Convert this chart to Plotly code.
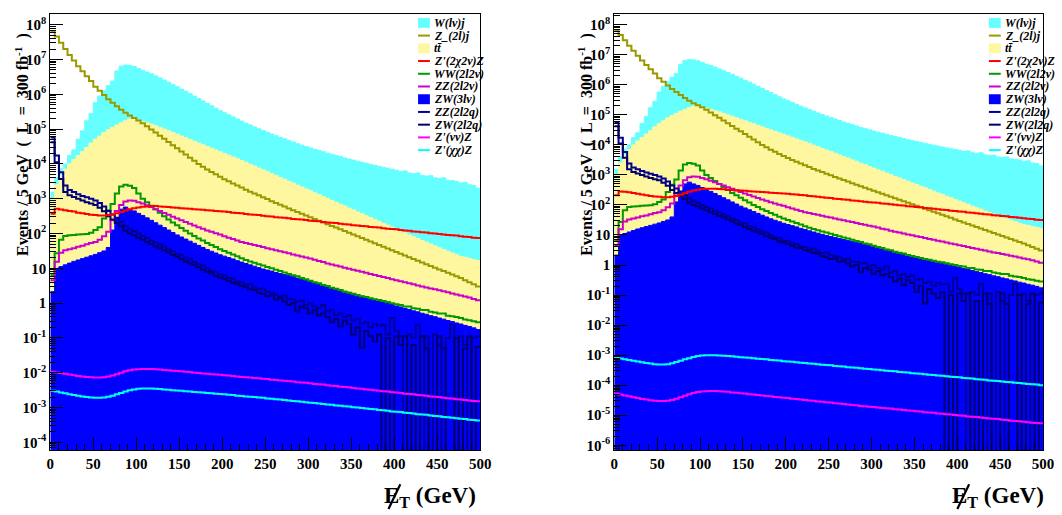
import plotly.graph_objects as go

# ---------------- data (log10 of events per 5 GeV bin, 100 bins 0..500 GeV) ----------------
BIN_EDGES = [5 * i for i in range(101)]

wlnu_j = [3.19, 3.6, 3.86, 4.0, 4.24, 4.4, 4.71, 4.95, 5.24, 5.45,
          5.76, 5.95, 6.1, 6.25, 6.38, 6.67, 6.81, 6.84, 6.83, 6.8,
          6.74, 6.69, 6.64, 6.59, 6.53, 6.47, 6.41, 6.35, 6.28, 6.22,
          6.15, 6.09, 6.02, 5.95, 5.88, 5.81, 5.74, 5.67, 5.6, 5.53,
          5.47, 5.41, 5.35, 5.29, 5.23, 5.17, 5.12, 5.06, 5.01, 4.96,
          4.91, 4.86, 4.81, 4.76, 4.72, 4.67, 4.63, 4.58, 4.54, 4.5,
          4.46, 4.42, 4.39, 4.35, 4.31, 4.28, 4.24, 4.21, 4.17, 4.14,
          4.11, 4.08, 4.05, 4.02, 3.99, 3.96, 3.93, 3.9, 3.87, 3.85,
          3.82, 3.78, 3.8, 3.74, 3.72, 3.74, 3.67, 3.65, 3.66, 3.6,
          3.58, 3.6, 3.53, 3.52, 3.5, 3.45, 3.47, 3.4, 3.38, 3.3]

ttbar = [3.0, 3.4, 3.67, 3.85, 4.0, 4.13, 4.24, 4.36, 4.47, 4.6,
         4.71, 4.8, 4.9, 4.98, 5.05, 5.12, 5.18, 5.24, 5.29, 5.28,
         5.25, 5.22, 5.18, 5.14, 5.1, 5.05, 5.0, 4.95, 4.9, 4.85,
         4.8, 4.75, 4.7, 4.65, 4.6, 4.55, 4.5, 4.45, 4.4, 4.35,
         4.3, 4.25, 4.2, 4.15, 4.1, 4.05, 3.99, 3.94, 3.88, 3.83,
         3.78, 3.72, 3.67, 3.61, 3.56, 3.5, 3.45, 3.39, 3.34, 3.28,
         3.23, 3.17, 3.12, 3.06, 3.01, 2.95, 2.9, 2.84, 2.79, 2.73,
         2.68, 2.62, 2.57, 2.51, 2.46, 2.4, 2.35, 2.29, 2.24, 2.18,
         2.13, 2.07, 2.02, 1.96, 1.91, 1.86, 1.8, 1.75, 1.7, 1.64,
         1.59, 1.54, 1.49, 1.44, 1.39, 1.34, 1.32, 1.28, 1.25, 1.22]

z2l_j = [7.81, 7.66, 7.48, 7.3, 7.13, 6.97, 6.81, 6.66, 6.52, 6.38,
         6.22, 6.1, 5.98, 5.86, 5.76, 5.66, 5.56, 5.47, 5.39, 5.32,
         5.25, 5.17, 5.08, 4.99, 4.9, 4.81, 4.72, 4.63, 4.54, 4.45,
         4.36, 4.27, 4.18, 4.09, 4.0, 3.92, 3.84, 3.77, 3.7, 3.63,
         3.56, 3.5, 3.44, 3.38, 3.32, 3.26, 3.2, 3.15, 3.1, 3.04,
         2.99, 2.93, 2.88, 2.83, 2.78, 2.72, 2.67, 2.62, 2.57, 2.52,
         2.47, 2.42, 2.37, 2.32, 2.27, 2.22, 2.17, 2.12, 2.07, 2.02,
         1.97, 1.92, 1.87, 1.82, 1.77, 1.72, 1.67, 1.62, 1.57, 1.52,
         1.47, 1.42, 1.37, 1.32, 1.27, 1.22, 1.17, 1.12, 1.07, 1.02,
         0.97, 0.92, 0.87, 0.82, 0.77, 0.72, 0.66, 0.6, 0.54, 0.48]

ww_2l2nu = [0.8, 1.43, 1.82, 1.93, 1.95, 1.96, 1.97, 1.98, 1.99, 2.02,
            2.1, 2.18, 2.43, 2.67, 2.85, 3.15, 3.35, 3.4, 3.37, 3.31,
            3.15, 3.0, 2.9, 2.8, 2.7, 2.6, 2.5, 2.4, 2.32, 2.24,
            2.16, 2.08, 2.0, 1.93, 1.86, 1.8, 1.73, 1.67, 1.61, 1.55,
            1.5, 1.45, 1.4, 1.35, 1.29, 1.24, 1.2, 1.16, 1.12, 1.08,
            1.04, 1.0, 0.96, 0.92, 0.88, 0.84, 0.8, 0.77, 0.72, 0.69,
            0.64, 0.6, 0.57, 0.52, 0.49, 0.44, 0.41, 0.38, 0.33, 0.3,
            0.27, 0.23, 0.2, 0.18, 0.14, 0.11, 0.09, 0.06, 0.03, 0.0,
            -0.03, -0.05, -0.1, -0.1, -0.15, -0.16, -0.2, -0.2, -0.25, -0.27,
            -0.3, -0.3, -0.36, -0.38, -0.4, -0.43, -0.47, -0.49, -0.52, -0.55]

zz_2l2nu = [0.66, 1.19, 1.45, 1.52, 1.55, 1.58, 1.62, 1.65, 1.69, 1.73,
            1.76, 1.82, 1.92, 2.05, 2.38, 2.65, 2.82, 2.92, 2.95, 2.94,
            2.9, 2.86, 2.81, 2.76, 2.7, 2.65, 2.59, 2.54, 2.48, 2.43,
            2.38, 2.33, 2.28, 2.23, 2.18, 2.14, 2.09, 2.05, 2.01, 1.97,
            1.92, 1.88, 1.84, 1.8, 1.76, 1.73, 1.7, 1.67, 1.64, 1.61,
            1.58, 1.55, 1.52, 1.49, 1.46, 1.43, 1.4, 1.37, 1.34, 1.31,
            1.28, 1.25, 1.21, 1.18, 1.14, 1.11, 1.08, 1.05, 1.02, 0.99,
            0.96, 0.93, 0.9, 0.87, 0.84, 0.81, 0.78, 0.75, 0.72, 0.69,
            0.66, 0.63, 0.6, 0.57, 0.54, 0.51, 0.48, 0.45, 0.42, 0.4,
            0.37, 0.34, 0.31, 0.28, 0.25, 0.22, 0.19, 0.16, 0.12, 0.08]

zw_3lnu = [0.33, 1.0, 1.05, 1.1, 1.15, 1.2, 1.24, 1.28, 1.32, 1.36,
           1.4, 1.45, 1.5, 1.6, 2.1, 2.45, 2.7, 2.76, 2.7, 2.65,
           2.58, 2.52, 2.45, 2.38, 2.31, 2.24, 2.17, 2.1, 2.03, 1.96,
           1.9, 1.84, 1.78, 1.72, 1.66, 1.6, 1.54, 1.49, 1.44, 1.39,
           1.35, 1.31, 1.27, 1.22, 1.18, 1.14, 1.1, 1.06, 1.02, 0.98,
           0.95, 0.92, 0.88, 0.85, 0.82, 0.79, 0.76, 0.72, 0.69, 0.66,
           0.62, 0.59, 0.55, 0.52, 0.48, 0.45, 0.41, 0.38, 0.34, 0.31,
           0.27, 0.24, 0.2, 0.17, 0.13, 0.1, 0.06, 0.03, -0.01, -0.04,
           -0.08, -0.11, -0.15, -0.18, -0.22, -0.25, -0.29, -0.32, -0.36, -0.39,
           -0.43, -0.46, -0.5, -0.53, -0.57, -0.6, -0.64, -0.67, -0.71, -0.76]

# None = empty bin
zz_2l2q = [4.76, 4.24, 3.76, 3.38, 3.25, 3.19, 3.13, 3.08, 3.04, 3.0,
           2.95, 2.88, 2.78, 2.65, 2.55, 2.45, 2.33, 2.22, 2.14, 2.07,
           2.0, 1.93, 1.87, 1.8, 1.75, 1.69, 1.63, 1.55, 1.5, 1.42,
           1.38, 1.3, 1.26, 1.18, 1.12, 1.08, 1.0, 0.92, 0.9, 0.82,
           0.8, 0.72, 0.7, 0.62, 0.6, 0.52, 0.55, 0.45, 0.4, 0.42,
           0.33, 0.3, 0.25, 0.2, 0.22, 0.12, 0.1, 0.05, 0.08, -0.05,
           0.0, -0.1, -0.15, -0.05, -0.25, -0.2, -0.35, -0.3, -0.4, -0.35,
           -0.5, -0.45, -0.6, -0.55, -0.7, -0.6, -0.65, -0.62, -0.9, -0.43,
           -0.8, -0.95, None, -0.9, -1.0, -0.62, None, -0.95, None, -0.9,
           -1.2, None, -1.0, -0.62, None, -0.95, -1.2, None, -1.0, -0.95]

zw_2l2q = [4.62, 4.05, 3.57, 3.19, 3.1, 3.05, 3.0, 2.95, 2.9, 2.86,
           2.82, 2.74, 2.64, 2.5, 2.4, 2.3, 2.2, 2.08, 2.0, 1.95,
           1.88, 1.82, 1.76, 1.7, 1.63, 1.58, 1.52, 1.46, 1.38, 1.33,
           1.26, 1.2, 1.14, 1.1, 1.03, 0.96, 0.9, 0.86, 0.78, 0.74,
           0.7, 0.64, 0.58, 0.56, 0.5, 0.46, 0.4, 0.38, 0.3, 0.26,
           0.2, 0.22, 0.1, 0.15, 0.05, -0.05, 0.0, -0.24, -0.1, -0.15,
           -0.3, -0.2, -0.35, -0.3, -0.4, -0.55, -0.45, -0.67, -0.5, -0.6,
           -0.9, -0.7, -1.28, -0.8, -0.95, -1.1, -0.9, None, -1.0, None,
           -0.95, -1.2, -0.95, None, -1.2, None, -0.95, -1.3, None, None,
           -0.95, -1.3, None, None, -1.0, None, -1.3, -0.95, None, -1.25]

# signals, left panel
sig_2chi2nu_left = [2.57, 2.71, 2.69, 2.67, 2.65, 2.63, 2.6, 2.58, 2.56, 2.54,
                    2.53, 2.52, 2.52, 2.53, 2.55, 2.58, 2.62, 2.66, 2.7, 2.73,
                    2.75, 2.77, 2.78, 2.79, 2.79, 2.78, 2.77, 2.76, 2.75, 2.74,
                    2.73, 2.72, 2.71, 2.7, 2.69, 2.68, 2.67, 2.66, 2.65, 2.64,
                    2.63, 2.62, 2.6, 2.59, 2.58, 2.56, 2.55, 2.54, 2.53, 2.51,
                    2.5, 2.49, 2.47, 2.46, 2.45, 2.44, 2.42, 2.41, 2.4, 2.39,
                    2.37, 2.36, 2.35, 2.33, 2.32, 2.31, 2.3, 2.28, 2.27, 2.26,
                    2.24, 2.23, 2.22, 2.21, 2.19, 2.18, 2.17, 2.15, 2.14, 2.13,
                    2.12, 2.1, 2.09, 2.08, 2.06, 2.05, 2.04, 2.03, 2.01, 2.0,
                    1.99, 1.97, 1.96, 1.95, 1.94, 1.92, 1.91, 1.9, 1.88, 1.87]

sig_nunu_left = [-1.97, -1.99, -2.01, -2.03, -2.05, -2.07, -2.09, -2.11, -2.12, -2.13,
                 -2.14, -2.14, -2.13, -2.11, -2.08, -2.04, -2.0, -1.96, -1.93, -1.91,
                 -1.9, -1.89, -1.89, -1.89, -1.9, -1.91, -1.92, -1.93, -1.94, -1.95,
                 -1.96, -1.97, -1.98, -2.0, -2.01, -2.02, -2.03, -2.04, -2.05, -2.06,
                 -2.07, -2.08, -2.09, -2.11, -2.12, -2.13, -2.14, -2.15, -2.16, -2.17,
                 -2.18, -2.2, -2.21, -2.22, -2.23, -2.24, -2.25, -2.27, -2.28, -2.29,
                 -2.3, -2.32, -2.33, -2.34, -2.36, -2.37, -2.38, -2.4, -2.41, -2.42,
                 -2.44, -2.45, -2.46, -2.48, -2.49, -2.5, -2.52, -2.53, -2.54, -2.56,
                 -2.57, -2.58, -2.6, -2.61, -2.62, -2.64, -2.65, -2.66, -2.68, -2.69,
                 -2.7, -2.72, -2.73, -2.74, -2.76, -2.77, -2.78, -2.8, -2.81, -2.82]

sig_chichi_left = [-2.52, -2.54, -2.57, -2.59, -2.62, -2.64, -2.66, -2.68, -2.7, -2.71,
                   -2.72, -2.72, -2.71, -2.69, -2.66, -2.62, -2.58, -2.54, -2.5, -2.48,
                   -2.46, -2.45, -2.45, -2.45, -2.46, -2.47, -2.48, -2.49, -2.5, -2.51,
                   -2.52, -2.53, -2.54, -2.55, -2.56, -2.57, -2.58, -2.59, -2.6, -2.61,
                   -2.62, -2.63, -2.64, -2.66, -2.67, -2.68, -2.69, -2.7, -2.71, -2.72,
                   -2.74, -2.75, -2.76, -2.77, -2.78, -2.8, -2.81, -2.82, -2.83, -2.85,
                   -2.86, -2.87, -2.88, -2.9, -2.91, -2.92, -2.94, -2.95, -2.96, -2.97,
                   -2.99, -3.0, -3.01, -3.03, -3.04, -3.05, -3.07, -3.08, -3.09, -3.11,
                   -3.12, -3.13, -3.15, -3.16, -3.17, -3.19, -3.2, -3.21, -3.23, -3.24,
                   -3.25, -3.27, -3.28, -3.29, -3.31, -3.32, -3.33, -3.35, -3.36, -3.37]

# signals, right panel
sig_2chi2nu_right = [2.32, 2.45, 2.44, 2.42, 2.4, 2.37, 2.35, 2.32, 2.3, 2.28,
                     2.27, 2.26, 2.26, 2.27, 2.3, 2.34, 2.39, 2.44, 2.48, 2.51,
                     2.53, 2.54, 2.54, 2.54, 2.53, 2.52, 2.51, 2.5, 2.49, 2.48,
                     2.47, 2.46, 2.45, 2.44, 2.43, 2.42, 2.41, 2.4, 2.39, 2.38,
                     2.37, 2.36, 2.35, 2.33, 2.32, 2.3, 2.29, 2.27, 2.26, 2.24,
                     2.23, 2.21, 2.2, 2.18, 2.17, 2.15, 2.14, 2.12, 2.11, 2.09,
                     2.08, 2.07, 2.05, 2.04, 2.02, 2.01, 1.99, 1.98, 1.96, 1.95,
                     1.93, 1.92, 1.9, 1.89, 1.87, 1.86, 1.84, 1.83, 1.81, 1.8,
                     1.78, 1.77, 1.75, 1.74, 1.72, 1.71, 1.69, 1.68, 1.66, 1.65,
                     1.63, 1.62, 1.6, 1.59, 1.57, 1.56, 1.54, 1.53, 1.51, 1.5]

sig_nunu_right = [-4.28, -4.31, -4.34, -4.37, -4.4, -4.43, -4.46, -4.48, -4.5, -4.52,
                  -4.53, -4.53, -4.52, -4.49, -4.45, -4.4, -4.35, -4.3, -4.26, -4.23,
                  -4.21, -4.2, -4.19, -4.19, -4.2, -4.21, -4.22, -4.24, -4.25, -4.27,
                  -4.28, -4.3, -4.31, -4.33, -4.34, -4.36, -4.37, -4.39, -4.4, -4.42,
                  -4.43, -4.45, -4.46, -4.48, -4.49, -4.51, -4.52, -4.54, -4.55, -4.57,
                  -4.58, -4.6, -4.61, -4.63, -4.64, -4.66, -4.67, -4.69, -4.7, -4.72,
                  -4.73, -4.74, -4.76, -4.77, -4.78, -4.8, -4.81, -4.83, -4.84, -4.85,
                  -4.87, -4.88, -4.9, -4.91, -4.92, -4.94, -4.95, -4.97, -4.98, -4.99,
                  -5.01, -5.02, -5.04, -5.05, -5.06, -5.08, -5.09, -5.11, -5.12, -5.13,
                  -5.15, -5.16, -5.18, -5.19, -5.2, -5.22, -5.23, -5.25, -5.26, -5.27]

sig_chichi_right = [-3.09, -3.11, -3.14, -3.16, -3.19, -3.21, -3.24, -3.26, -3.28, -3.3,
                    -3.31, -3.31, -3.3, -3.27, -3.23, -3.19, -3.14, -3.1, -3.06, -3.03,
                    -3.01, -3.0, -3.0, -3.0, -3.01, -3.02, -3.03, -3.04, -3.05, -3.07,
                    -3.08, -3.09, -3.1, -3.12, -3.13, -3.14, -3.16, -3.17, -3.18, -3.2,
                    -3.21, -3.22, -3.24, -3.25, -3.26, -3.28, -3.29, -3.3, -3.32, -3.33,
                    -3.34, -3.36, -3.37, -3.38, -3.4, -3.41, -3.42, -3.44, -3.45, -3.46,
                    -3.48, -3.49, -3.5, -3.52, -3.53, -3.54, -3.56, -3.57, -3.58, -3.6,
                    -3.61, -3.62, -3.64, -3.65, -3.66, -3.68, -3.69, -3.7, -3.72, -3.73,
                    -3.74, -3.76, -3.77, -3.78, -3.8, -3.81, -3.82, -3.84, -3.85, -3.86,
                    -3.88, -3.89, -3.9, -3.92, -3.93, -3.94, -3.96, -3.97, -3.98, -4.0]

for _arr in [wlnu_j, ttbar, z2l_j, ww_2l2nu, zz_2l2nu, zw_3lnu, zz_2l2q, zw_2l2q,
             sig_2chi2nu_left, sig_nunu_left, sig_chichi_left,
             sig_2chi2nu_right, sig_nunu_right, sig_chichi_right]:
    assert len(_arr) == 100, len(_arr)

legend_labels = ["W(lν)j", "Z_(2l)j", "tt\u0304", "Z'(2χ2ν)Z", "WW(2l2ν)", "ZZ(2l2ν)",
                 "ZW(3lν)", "ZZ(2l2q)", "ZW(2l2q)", "Z'(νν)Z", "Z'(χχ)Z"]

y_tick_exponents_left = list(range(-4, 9))
y_tick_exponents_right = list(range(-6, 9))
x_tick_values = list(range(0, 501, 50))

# ---------------- style ----------------
C_WJ = '#66FFFF'
C_TT = '#FFF6A0'
C_ZW3 = '#0000FF'
C_ZJ = '#999900'
C_RED = '#FF0000'
C_WW = '#009900'
C_ZZ = '#CC00CC'
C_NAVY1 = '#000099'
C_NAVY2 = '#00006E'
C_NUNU = '#FF00FF'
C_CHICHI = '#00FFFF'

W, H = 1062, 515
FONT = "'Liberation Serif', 'Times New Roman', Times, serif"
FLOOR = 1e-14


def pxx(x):
    return x / W


def pxy(y):
    return 1 - y / H


def to_lin(vals):
    ys = [FLOOR if v is None else 10 ** v for v in vals]
    return ys + [ys[-1]]


fig = go.Figure()


def add_panel(xa, ya, red, nunu, chichi):
    # filled histograms
    for vals, col, lcol in [(wlnu_j, C_WJ, C_WJ), (ttbar, C_TT, C_TT), (zw_3lnu, C_ZW3, C_ZW3)]:
        fig.add_trace(go.Scatter(x=[0, 500], y=[FLOOR, FLOOR], mode='lines', line=dict(width=0),
                                 xaxis=xa, yaxis=ya, showlegend=False, hoverinfo='skip'))
        fig.add_trace(go.Scatter(x=BIN_EDGES, y=to_lin(vals), mode='lines',
                                 line=dict(shape='hv', width=1, color=lcol),
                                 fill='tonexty', fillcolor=col, xaxis=xa, yaxis=ya,
                                 showlegend=False, hoverinfo='skip'))
    # line histograms
    for vals, col in [(z2l_j, C_ZJ), (ww_2l2nu, C_WW), (zz_2l2nu, C_ZZ),
                      (zz_2l2q, C_NAVY1), (zw_2l2q, C_NAVY2), (red, C_RED),
                      (nunu, C_NUNU), (chichi, C_CHICHI)]:
        fig.add_trace(go.Scatter(x=BIN_EDGES, y=to_lin(vals), mode='lines',
                                 line=dict(shape='hv', width=2, color=col),
                                 xaxis=xa, yaxis=ya, showlegend=False, hoverinfo='skip'))


add_panel('x', 'y', sig_2chi2nu_left, sig_nunu_left, sig_chichi_left)
add_panel('x2', 'y2', sig_2chi2nu_right, sig_nunu_right, sig_chichi_right)

Y_DOM = [1 - 453 / H, 1 - 14 / H]
tickfont = dict(family=FONT, size=15, color='black', weight='bold')


def ytext(e):
    if e == 0:
        return '1'
    if e == 1:
        return '10'
    return '10<sup>%d</sup>' % e


def yaxis_cfg(exps, rng, anchor):
    minor_vals = [k * 10 ** e for e in range(exps[0] - 1, exps[-1] + 1) for k in range(2, 10)]
    return dict(type='log', domain=Y_DOM, range=rng, anchor=anchor,
                showline=True, mirror=True, linecolor='black', linewidth=1,
                showgrid=False, zeroline=False,
                ticks='inside', ticklen=13, tickwidth=1, tickcolor='black',
                tickmode='array', tickvals=[10 ** e for e in exps],
                ticktext=[ytext(e) for e in exps], tickfont=tickfont,
                minor=dict(ticks='inside', ticklen=6, tickwidth=1, tickcolor='black',
                           tickmode='array', tickvals=minor_vals, showgrid=False))


def xaxis_cfg(dom, anchor):
    return dict(domain=dom, range=[0, 500], anchor=anchor,
                showline=True, mirror=True, linecolor='black', linewidth=1,
                showgrid=False, zeroline=False,
                ticks='inside', ticklen=13, tickwidth=1, tickcolor='black',
                tickmode='array', tickvals=x_tick_values,
                ticktext=[str(v) for v in x_tick_values], tickfont=tickfont,
                minor=dict(ticks='inside', ticklen=6, tickwidth=1, tickcolor='black',
                           dtick=10, showgrid=False))


fig.update_layout(
    width=W, height=H, margin=dict(l=0, r=0, t=0, b=0),
    paper_bgcolor='white', plot_bgcolor='white', showlegend=False,
    font=dict(family=FONT, color='black'),
    xaxis=xaxis_cfg([47 / W, 483 / W], 'y'),
    yaxis=yaxis_cfg(y_tick_exponents_left, [-4.23, 8.31], 'x'),
    xaxis2=xaxis_cfg([619 / W, 1054 / W], 'y2'),
    yaxis2=yaxis_cfg(y_tick_exponents_right, [-6.17, 8.36], 'x2'),
)

# axis titles
ytitle = "Events / 5 GeV  (  L  =  300 fb<sup>-1</sup>  )"
for xc in (18, 590):
    fig.add_annotation(xref='paper', yref='paper', x=pxx(xc), y=pxy(145), text=ytitle,
                       textangle=-90, showarrow=False, xanchor='center', yanchor='middle',
                       font=dict(family=FONT, size=16, color='black', weight='bold'))
xtitle = "E<sub>T</sub> (GeV)"
for x0 in (383, 960):
    fig.add_annotation(xref='paper', yref='paper', x=pxx(x0), y=pxy(500), text=xtitle,
                       showarrow=False, xanchor='left', yanchor='middle',
                       font=dict(family=FONT, size=23, color='black', weight='bold'))
    # slash through the E (missing transverse energy), drawn as a line
    fig.add_shape(type='line', xref='paper', yref='paper',
                  x0=pxx(x0 + 7), y0=pxy(512), x1=pxx(x0 + 19), y1=pxy(487),
                  line=dict(color='black', width=2.2))

# legends (drawn manually, ROOT style)
legend_styles = [('box', C_WJ), ('line', C_ZJ), ('box', C_TT), ('line', C_RED), ('line', C_WW),
                 ('line', C_ZZ), ('box', C_ZW3), ('line', C_NAVY1), ('line', C_NAVY2),
                 ('line', C_NUNU), ('line', C_CHICHI)]
for x0 in (420, 999):
    for i, (lab, (kind, col)) in enumerate(zip(legend_labels, legend_styles)):
        yc = 23 + i * 12.8
        if kind == 'box':
            fig.add_shape(type='rect', xref='paper', yref='paper', x0=pxx(x0), x1=pxx(x0 + 12),
                          y0=pxy(yc + 5), y1=pxy(yc - 5), fillcolor=col, line=dict(width=0))
        else:
            fig.add_shape(type='line', xref='paper', yref='paper', x0=pxx(x0), x1=pxx(x0 + 12),
                          y0=pxy(yc), y1=pxy(yc), line=dict(color=col, width=2))
        fig.add_annotation(xref='paper', yref='paper', x=pxx(x0 + 14), y=pxy(yc), text=lab,
                           showarrow=False, xanchor='left', yanchor='middle',
                           font=dict(family=FONT, size=12, color='black', weight='bold',
                                     style='italic'))

fig.write_html("out.html", config={'displayModeBar': False})
